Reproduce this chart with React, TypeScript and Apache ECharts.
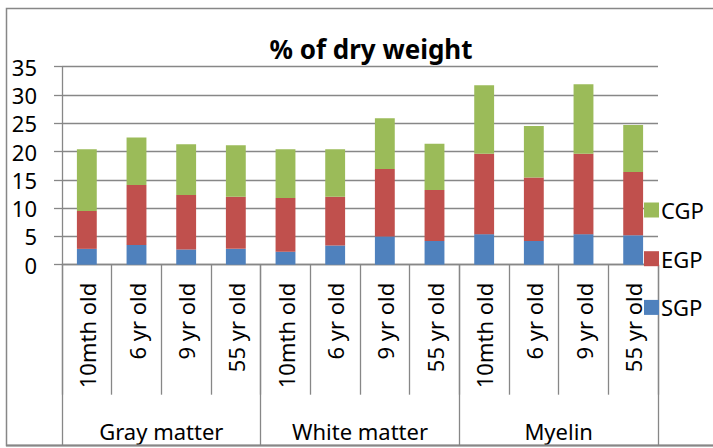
import React, { useEffect, useRef } from "react";
import * as echarts from "echarts";

const categories = [
  "10mth old", "6 yr old", "9 yr old", "55 yr old",
  "10mth old", "6 yr old", "9 yr old", "55 yr old",
  "10mth old", "6 yr old", "9 yr old", "55 yr old",
];
const groups = ["Gray matter", "White matter", "Myelin"];
const sgp = [2.8, 3.5, 2.7, 2.8, 2.3, 3.4, 5.0, 4.2, 5.4, 4.2, 5.4, 5.2];
const egp = [6.7, 10.6, 9.6, 9.2, 9.5, 8.6, 11.9, 9.0, 14.2, 11.2, 14.2, 11.2];
const cgp = [10.9, 8.4, 9.0, 9.1, 8.6, 8.4, 9.0, 8.2, 12.1, 9.1, 12.3, 8.3];
const yTicks = { min: 0, max: 35, interval: 5 };
const titleText = "% of dry weight";

const FONT = "Noto Sans";
const GRID_COLOR = "#878787";

export default function App() {
  const ref = useRef<HTMLDivElement>(null);
  useEffect(() => {
    if (!ref.current) return;
    const chart = echarts.init(ref.current, null, { renderer: "svg" });
    chart.setOption({
      animation: false,
      backgroundColor: "#ffffff",
      textStyle: { fontFamily: FONT },
      graphic: [
        {
          type: "rect",
          shape: { x: 6.5, y: 8.5, width: 730, height: 437 },
          style: { fill: "none", stroke: GRID_COLOR, lineWidth: 1.5 },
          silent: true,
          z: 100,
        },
        {
          type: "line",
          shape: { x1: 6, y1: 445.5, x2: 713, y2: 445.5 },
          style: { stroke: GRID_COLOR, lineWidth: 2 },
          silent: true,
          z: 100,
        },
        {
          type: "text",
          x: 371,
          y: 49,
          style: {
            text: titleText,
            fontFamily: FONT,
            fontSize: 26,
            fontWeight: "bold",
            fill: "#000000",
            align: "center",
            verticalAlign: "middle",
          },
        },
      ],
      legend: {
        orient: "vertical",
        left: 644,
        top: 197,
        data: ["CGP", "EGP", "SGP"],
        icon: "rect",
        itemWidth: 15,
        itemHeight: 15,
        itemGap: 22.7,
        padding: 0,
        textStyle: { fontFamily: FONT, fontSize: 22, color: "#000", lineHeight: 26, padding: [0, 0, 0, -3] },
      },
      grid: { left: 62, right: 55, top: 66.7, bottom: 183.3, containLabel: false },
      xAxis: [
        {
          type: "category",
          data: categories,
          position: "bottom",
          axisLine: { show: true, lineStyle: { color: GRID_COLOR, width: 1.3 } },
          axisTick: { show: true, length: 130, inside: false, lineStyle: { color: GRID_COLOR, width: 1.3 } },
          axisLabel: {
            interval: 0,
            rotate: 90,
            margin: 18,
            fontFamily: FONT,
            fontSize: 22,
            color: "#000",
          },
        },
        {
          type: "category",
          data: groups,
          position: "bottom",
          offset: 0,
          axisLine: { show: false },
          axisTick: { show: true, length: 181, lineStyle: { color: GRID_COLOR, width: 1.3 } },
          axisLabel: {
            interval: 0,
            margin: 166,
            verticalAlign: "middle",
            fontFamily: FONT,
            fontSize: 22,
            color: "#000",
          },
        },
      ],
      yAxis: {
        type: "value",
        min: yTicks.min,
        max: yTicks.max,
        interval: yTicks.interval,
        axisLine: { show: true, lineStyle: { color: GRID_COLOR, width: 1.3 } },
        axisTick: { show: true, length: 8, lineStyle: { color: GRID_COLOR, width: 1.3 } },
        splitLine: { show: true, lineStyle: { color: GRID_COLOR, width: 1.3 } },
        axisLabel: { margin: 25, fontFamily: FONT, fontSize: 22, color: "#000" },
      },
      series: [
        { name: "SGP", type: "bar", stack: "t", data: sgp, barWidth: "40%", itemStyle: { color: "#4F81BD" } },
        { name: "EGP", type: "bar", stack: "t", data: egp, barWidth: "40%", itemStyle: { color: "#C0504D" } },
        { name: "CGP", type: "bar", stack: "t", data: cgp, barWidth: "40%", itemStyle: { color: "#9BBB59" } },
      ],
    });
    return () => chart.dispose();
  }, []);
  return (
    <div
      ref={ref}
      style={{ position: "fixed", left: 0, top: 0, width: 713, height: 448, background: "#fff" }}
    />
  );
}
